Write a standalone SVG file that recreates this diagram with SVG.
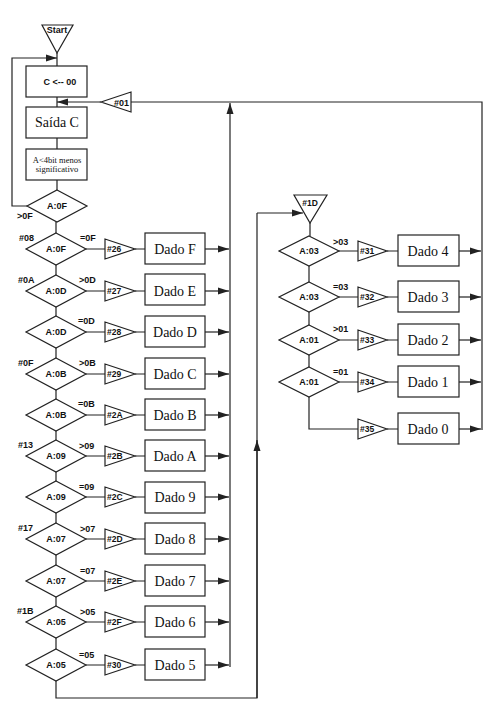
<svg xmlns="http://www.w3.org/2000/svg" width="500" height="723" viewBox="0 0 500 723">
<style>
.s{fill:none;stroke:#222;stroke-width:1.2}
.f{fill:#fff;stroke:#222;stroke-width:1.2}
.d{font-family:"Liberation Sans",Arial,sans-serif;font-weight:bold;font-size:9px;fill:#111;text-anchor:middle}
.c{font-family:"Liberation Sans",Arial,sans-serif;font-weight:bold;font-size:9px;fill:#111}
.h{font-family:"Liberation Sans",Arial,sans-serif;font-weight:bold;font-size:8.5px;fill:#111}
.b{font-family:"Liberation Serif","Times New Roman",serif;font-size:14px;fill:#111;text-anchor:middle}
.t{font-family:"Liberation Serif","Times New Roman",serif;font-size:8.5px;fill:#111;text-anchor:middle}
.a{fill:none;stroke:#222;stroke-width:1.2;marker-end:url(#ah)}
</style>
<defs>
<marker id="ah" markerUnits="userSpaceOnUse" markerWidth="11" markerHeight="8" refX="11" refY="4" orient="auto">
<path d="M0,0.5 L11,4 L0,7.5 z" fill="#222"/>
</marker>
</defs>
<g id="connectors">
<path class="s" d="M57,53 V66 M57,97 V107 M57,138 V149 M57,180 V190"/>
<path class="a" d="M27,206 H12 V58 H57"/>
<path class="a" d="M101,102 H57"/>
<path class="s" d="M131,102 H482 V430"/>
<path class="a" d="M230,667 V103"/>
<path class="s" d="M56,222 V233 M56,265 V275 M56,307 V316 M56,348 V358 M56,390 V399 M56,431 V440 M56,472 V481 M56,513 V523 M56,555 V565 M56,597 V606 M56,638 V649"/>
<path class="s" d="M56,681 V698 H257 V213"/>
<path class="a" d="M257,698 V440"/>
<path class="a" d="M257,213 H303"/>
<path class="s" d="M86,249 H105 M135,249 H145 M86,291 H105 M135,291 H145 M86,332 H105 M135,332 H145 M86,374 H105 M135,374 H145 M86,415 H105 M135,415 H145 M86,456 H105 M135,456 H145 M86,497 H105 M135,497 H145 M86,539 H105 M135,539 H145 M86,581 H105 M135,581 H145 M86,622 H105 M135,622 H145 M86,665 H105 M135,665 H145"/>
<path class="a" d="M205,249 H229"/>
<path class="a" d="M205,291 H229"/>
<path class="a" d="M205,332 H229"/>
<path class="a" d="M205,374 H229"/>
<path class="a" d="M205,415 H229"/>
<path class="a" d="M205,456 H229"/>
<path class="a" d="M205,497 H229"/>
<path class="a" d="M205,539 H229"/>
<path class="a" d="M205,581 H229"/>
<path class="a" d="M205,622 H229"/>
<path class="a" d="M205,665 H229"/>
<path class="s" d="M310,223 V236 M309,266 V282 M309,312 V325 M309,355 V367"/>
<path class="s" d="M339,251 H358 M387,251 H398 M339,297 H358 M387,297 H398 M339,340 H358 M387,340 H398 M339,382 H358 M387,382 H398 M309,397 V429 H358 M387,429 H398"/>
<path class="a" d="M459,251 H481"/>
<path class="a" d="M459,297 H481"/>
<path class="a" d="M459,340 H481"/>
<path class="a" d="M459,382 H481"/>
<path class="a" d="M459,429 H481"/>
</g>
<g id="start"><polygon class="f" points="42,25 73,25 57,53"/><text class="c" x="57" y="33" text-anchor="middle">Start</text></g>
<g id="c00"><rect class="f" x="26" y="66" width="61" height="31"/><text class="d" x="60" y="85">C &lt;-- 00</text></g>
<g id="saida"><rect class="f" x="26" y="107" width="61" height="31"/><text class="b" x="57" y="127" font-size="15">Saída C</text></g>
<g id="a4bit"><rect class="f" x="26" y="149" width="61" height="31"/><text class="t" x="57" y="163">A&lt;4bit menos</text><text class="t" x="57" y="172">significativo</text></g>
<g id="t01"><polygon class="f" points="101,102 131,92 131,112"/><text class="c" x="114" y="106">#01</text></g>
<g id="d0"><polygon class="f" points="57,190 87,206 57,222 27,206"/><text class="d" x="57" y="209">A:0F</text><text class="c" x="17" y="219">&gt;0F</text></g>

<g id="d1"><polygon class="f" points="56,233 86,249 56,265 26,249"/><text class="d" x="56" y="252">A:0F</text><text class="c" x="19" y="241">#08</text><text class="c" x="80" y="241">=0F</text></g>
<g id="t26"><polygon class="f" points="105,239 105,259 135,249"/><text class="h" x="107" y="252">#26</text></g>
<g id="bF"><rect class="f" x="145" y="233" width="60" height="31"/><text class="b" x="175" y="254">Dado F</text></g>

<g id="d2"><polygon class="f" points="56,275 86,291 56,307 26,291"/><text class="d" x="56" y="294">A:0D</text><text class="c" x="18" y="283">#0A</text><text class="c" x="79" y="283">&gt;0D</text></g>
<g id="t27"><polygon class="f" points="105,281 105,301 135,291"/><text class="h" x="107" y="294">#27</text></g>
<g id="bE"><rect class="f" x="145" y="274" width="60" height="31"/><text class="b" x="175" y="296">Dado E</text></g>

<g id="d3"><polygon class="f" points="56,316 86,332 56,348 26,332"/><text class="d" x="56" y="335">A:0D</text><text class="c" x="78" y="324">=0D</text></g>
<g id="t28"><polygon class="f" points="105,322 105,342 135,332"/><text class="h" x="107" y="335">#28</text></g>
<g id="bD"><rect class="f" x="145" y="316" width="60" height="31"/><text class="b" x="175" y="337">Dado D</text></g>

<g id="d4"><polygon class="f" points="56,358 86,374 56,390 26,374"/><text class="d" x="56" y="377">A:0B</text><text class="c" x="18" y="366">#0F</text><text class="c" x="79" y="366">&gt;0B</text></g>
<g id="t29"><polygon class="f" points="105,364 105,384 135,374"/><text class="h" x="107" y="377">#29</text></g>
<g id="bC"><rect class="f" x="145" y="358" width="60" height="31"/><text class="b" x="175" y="379">Dado C</text></g>

<g id="d5"><polygon class="f" points="56,399 86,415 56,431 26,415"/><text class="d" x="56" y="418">A:0B</text><text class="c" x="78" y="407">=0B</text></g>
<g id="t2A"><polygon class="f" points="105,405 105,425 135,415"/><text class="h" x="107" y="418">#2A</text></g>
<g id="bB"><rect class="f" x="145" y="399" width="60" height="31"/><text class="b" x="175" y="420">Dado B</text></g>

<g id="d6"><polygon class="f" points="56,440 86,456 56,472 26,456"/><text class="d" x="56" y="459">A:09</text><text class="c" x="18" y="448">#13</text><text class="c" x="79" y="449">&gt;09</text></g>
<g id="t2B"><polygon class="f" points="105,446 105,466 135,456"/><text class="h" x="107" y="459">#2B</text></g>
<g id="bA"><rect class="f" x="145" y="440" width="60" height="31"/><text class="b" x="175" y="461">Dado A</text></g>

<g id="d7"><polygon class="f" points="56,481 86,497 56,513 26,497"/><text class="d" x="56" y="500">A:09</text><text class="c" x="79" y="490">=09</text></g>
<g id="t2C"><polygon class="f" points="105,487 105,507 135,497"/><text class="h" x="107" y="500">#2C</text></g>
<g id="b9"><rect class="f" x="145" y="482" width="60" height="31"/><text class="b" x="175" y="502">Dado 9</text></g>

<g id="d8"><polygon class="f" points="56,523 86,539 56,555 26,539"/><text class="d" x="56" y="542">A:07</text><text class="c" x="18" y="531">#17</text><text class="c" x="80" y="532">&gt;07</text></g>
<g id="t2D"><polygon class="f" points="105,529 105,549 135,539"/><text class="h" x="107" y="542">#2D</text></g>
<g id="b8"><rect class="f" x="145" y="523" width="60" height="31"/><text class="b" x="175" y="544">Dado 8</text></g>

<g id="d9"><polygon class="f" points="56,565 86,581 56,597 26,581"/><text class="d" x="56" y="584">A:07</text><text class="c" x="80" y="574">=07</text></g>
<g id="t2E"><polygon class="f" points="105,571 105,591 135,581"/><text class="h" x="107" y="584">#2E</text></g>
<g id="b7"><rect class="f" x="145" y="565" width="60" height="31"/><text class="b" x="175" y="586">Dado 7</text></g>

<g id="d10"><polygon class="f" points="56,606 86,622 56,638 26,622"/><text class="d" x="56" y="625">A:05</text><text class="c" x="17" y="614">#1B</text><text class="c" x="80" y="615">&gt;05</text></g>
<g id="t2F"><polygon class="f" points="105,612 105,632 135,622"/><text class="h" x="107" y="625">#2F</text></g>
<g id="b6"><rect class="f" x="145" y="606" width="60" height="31"/><text class="b" x="175" y="627">Dado 6</text></g>

<g id="d11"><polygon class="f" points="56,649 86,665 56,681 26,665"/><text class="d" x="56" y="668">A:05</text><text class="c" x="79" y="658">=05</text></g>
<g id="t30"><polygon class="f" points="105,655 105,675 135,665"/><text class="h" x="107" y="668">#30</text></g>
<g id="b5"><rect class="f" x="145" y="649" width="60" height="31"/><text class="b" x="175" y="670">Dado 5</text></g>

<g id="t1D"><polygon class="f" points="294,195 327,195 310,223"/><text class="h" x="310" y="206" text-anchor="middle">#1D</text></g>

<g id="r1"><polygon class="f" points="309,236 339,251 309,266 279,251"/><text class="d" x="309" y="254">A:03</text><text class="c" x="333" y="245">&gt;03</text></g>
<g id="t31"><polygon class="f" points="358,241 358,261 387,251"/><text class="h" x="360" y="254">#31</text></g>
<g id="b4"><rect class="f" x="398" y="235" width="61" height="31"/><text class="b" x="428" y="256">Dado 4</text></g>

<g id="r2"><polygon class="f" points="309,282 339,297 309,312 279,297"/><text class="d" x="309" y="300">A:03</text><text class="c" x="333" y="290">=03</text></g>
<g id="t32"><polygon class="f" points="358,287 358,307 387,297"/><text class="h" x="360" y="300">#32</text></g>
<g id="b3"><rect class="f" x="398" y="281" width="61" height="31"/><text class="b" x="428" y="302">Dado 3</text></g>

<g id="r3"><polygon class="f" points="309,325 339,340 309,355 279,340"/><text class="d" x="309" y="343">A:01</text><text class="c" x="333" y="332">&gt;01</text></g>
<g id="t33"><polygon class="f" points="358,330 358,350 387,340"/><text class="h" x="360" y="343">#33</text></g>
<g id="b2"><rect class="f" x="398" y="324" width="61" height="31"/><text class="b" x="428" y="345">Dado 2</text></g>

<g id="r4"><polygon class="f" points="309,367 339,382 309,397 279,382"/><text class="d" x="309" y="385">A:01</text><text class="c" x="333" y="375">=01</text></g>
<g id="t34"><polygon class="f" points="358,372 358,392 387,382"/><text class="h" x="360" y="385">#34</text></g>
<g id="b1"><rect class="f" x="398" y="366" width="61" height="31"/><text class="b" x="428" y="387">Dado 1</text></g>

<g id="t35"><polygon class="f" points="358,419 358,439 387,429"/><text class="h" x="360" y="432">#35</text></g>
<g id="b0"><rect class="f" x="398" y="413" width="61" height="31"/><text class="b" x="428" y="434">Dado 0</text></g>
</svg>
